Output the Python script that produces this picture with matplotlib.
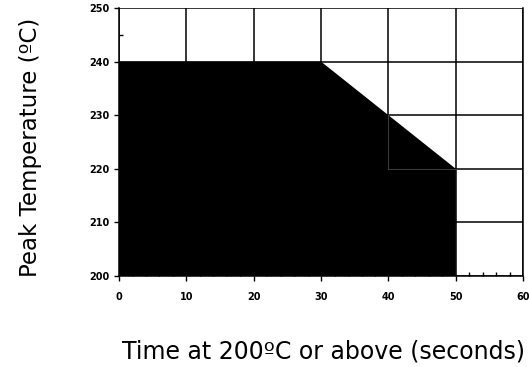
import matplotlib
matplotlib.use("Agg")
import matplotlib.pyplot as plt
from matplotlib.ticker import MultipleLocator

# Reflow profile limit: peak temperature vs. time above 200 °C
time_s = [0, 30, 40, 50]
peak_c = [240, 240, 230, 220]
x_ticks = [0, 10, 20, 30, 40, 50, 60]
y_ticks = [200, 210, 220, 230, 240, 250]

fig = plt.figure(figsize=(5.29, 3.67), dpi=100)
ax = fig.add_axes([0.225, 0.248, 0.764, 0.730])

ax.set_xlim(0, 60)
ax.set_ylim(200, 250)
ax.set_xticks(x_ticks)
ax.set_yticks(y_ticks)
ax.xaxis.set_minor_locator(MultipleLocator(2))
ax.yaxis.set_minor_locator(MultipleLocator(5))

ax.grid(True, which="major", color="black", linewidth=1.1, zorder=1)
ax.set_axisbelow(True)

# Filled acceptable region under the limit curve
xs = [time_s[0]] + time_s + [time_s[-1]]
ys = [200] + peak_c + [200]
ax.fill(xs, ys, color="black", zorder=2, linewidth=0)
# inner cell seam of the stepped region
ax.plot([time_s[2], time_s[2], time_s[3]], [peak_c[2], peak_c[3], peak_c[3]],
        color="#3a3a3a", linewidth=0.8, zorder=3)

ax.spines["top"].set_visible(False)
for s in ["left", "bottom", "right"]:
    ax.spines[s].set_linewidth(1.1)
    ax.spines[s].set_zorder(4)

ax.tick_params(axis="x", which="major", direction="out", length=3.5, width=1,
               pad=8, labelsize=7)
ax.tick_params(axis="y", which="major", direction="out", length=3.5, width=1,
               pad=3, labelsize=7)
ax.tick_params(which="minor", direction="in", length=3, width=1)
for lbl in ax.get_xticklabels() + ax.get_yticklabels():
    lbl.set_fontweight("bold")
    lbl.set_fontfamily("DejaVu Sans")

fig.text(0.057, 0.598, "Peak Temperature (ºC)", rotation=90, ha="center",
         va="center", fontsize=16.5, family="DejaVu Sans")
fig.text(0.6115, 0.0245, "Time at 200ºC or above (seconds)", ha="center",
         va="baseline", fontsize=17, family="DejaVu Sans")

fig.savefig("out.png", dpi=100)
